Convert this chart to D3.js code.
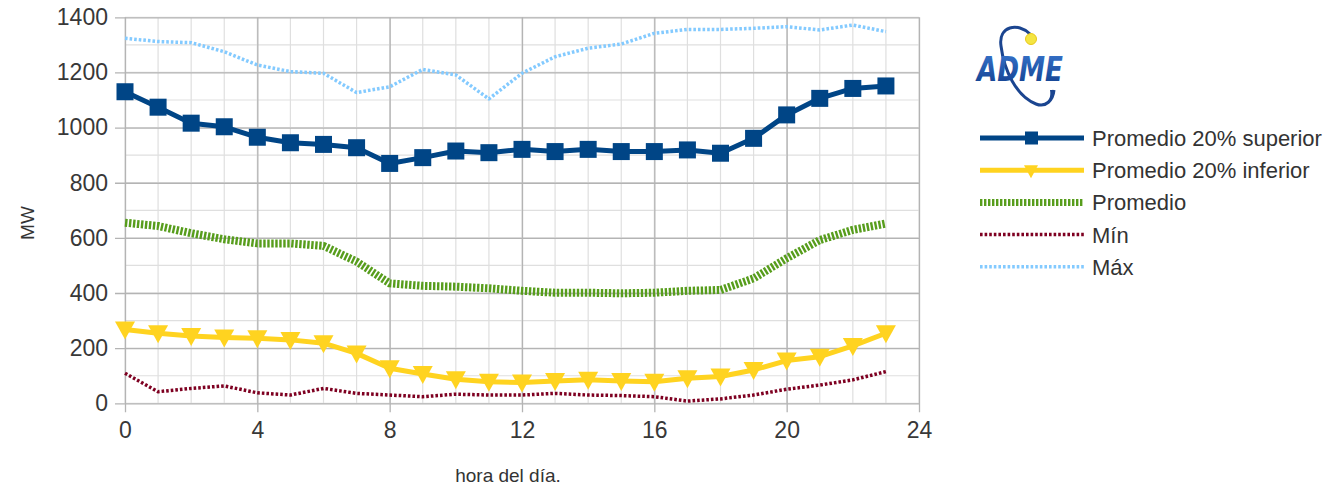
<!DOCTYPE html>
<html>
<head>
<meta charset="utf-8">
<script src="https://cdn.jsdelivr.net/npm/d3@7"></script>
<style>
  html, body { margin: 0; padding: 0; background: #ffffff; }
  svg { display: block; font-family: "Liberation Sans", Arial, sans-serif; }
</style>
</head>
<body>
<svg id="chart" width="1339" height="486"></svg>
<script>
// Hourly demand profile (MW), hours 0..23
const hours = d3.range(0, 24);
const promedioSuperior = [1130, 1074, 1016, 1003, 965, 945, 939, 927, 870, 891, 915, 909,
                          921, 913, 921, 913, 913, 919, 907, 961, 1046, 1106, 1142, 1151];
const promedioInferior = [268, 254, 244, 239, 236, 230, 218, 181, 127, 106, 87, 78,
                          75, 81, 85, 81, 78, 91, 97, 121, 155, 169, 208, 254];
const promedio = [655, 643, 617, 595, 580, 580, 571, 514, 435, 426, 423, 417,
                  408, 401, 401, 399, 401, 408, 411, 453, 526, 592, 629, 652];
const minimo = [109, 42, 54, 63, 38, 30, 54, 36, 30, 24, 33, 30,
                30, 36, 30, 28, 24, 8, 16, 30, 51, 66, 85, 115];
const maximo = [1324, 1312, 1308, 1275, 1227, 1203, 1197, 1127, 1148, 1211, 1191, 1104,
                1197, 1257, 1288, 1303, 1342, 1356, 1356, 1360, 1366, 1354, 1372, 1348];

const xTicks = [0, 4, 8, 12, 16, 20, 24];
const yTicks = [0, 200, 400, 600, 800, 1000, 1200, 1400];
const seriesNames = ["Promedio 20% superior", "Promedio 20% inferior", "Promedio", "Mín", "Máx"];

const svg = d3.select("#chart");
const x = d3.scaleLinear().domain([0, 24]).range([125, 919]);
const y = d3.scaleLinear().domain([0, 1400]).range([403.3, 17.3]);

// Grid: minor every hour / 100 MW, major every 4 h / 200 MW
const grid = svg.append("g");
grid.selectAll(".vminor").data(d3.range(0, 25)).join("line")
  .attr("x1", d => x(d)).attr("x2", d => x(d))
  .attr("y1", y(1400)).attr("y2", y(0))
  .attr("stroke", "#dfdfdf").attr("stroke-width", 1.2);
grid.selectAll(".hminor").data(d3.range(0, 1401, 100)).join("line")
  .attr("x1", x(0)).attr("x2", x(24))
  .attr("y1", d => y(d)).attr("y2", d => y(d))
  .attr("stroke", "#dfdfdf").attr("stroke-width", 1.2);

// Axes with gridlines as major ticks
const xAxis = d3.axisBottom(x).tickValues(xTicks).tickSize(y(0) - y(1400) + 9).tickPadding(9).tickFormat(d3.format("d"));
const yAxis = d3.axisLeft(y).tickValues(yTicks).tickSize(x(24) - x(0) + 10).tickPadding(7).tickFormat(d3.format("d"));

const gx = svg.append("g").attr("transform", `translate(0,${y(1400)})`).call(xAxis);
const gy = svg.append("g").attr("transform", `translate(${x(24)},0)`).call(yAxis);
[gx, gy].forEach(g => {
  g.select(".domain").remove();
  g.selectAll(".tick line").attr("stroke", "#b4b4b4").attr("stroke-width", 1.3);
  g.selectAll(".tick text").attr("fill", "#383838").attr("font-size", 23)
    .attr("font-family", "'Liberation Sans', Arial, sans-serif");
});

// Axis titles
svg.append("text").attr("x", 508).attr("y", 482)
  .attr("text-anchor", "middle").attr("font-size", 19).attr("fill", "#333")
  .text("hora del día.");
svg.append("text").attr("transform", "translate(34,223) rotate(-90)")
  .attr("text-anchor", "middle").attr("font-size", 19).attr("fill", "#333")
  .text("MW");

const line = d3.line().x((d, i) => x(hours[i])).y(d => y(d));

const styles = [
  { data: promedioSuperior, color: "#004586", width: 5, dash: null, marker: "square" },
  { data: promedioInferior, color: "#ffd320", width: 5, dash: null, marker: "triangle" },
  { data: promedio, color: "#579d1c", width: 8, dash: "2.4,1.6", marker: null },
  { data: minimo, color: "#7e0021", width: 3.5, dash: "2.6,2", marker: null },
  { data: maximo, color: "#83caff", width: 3.5, dash: "2.6,2", marker: null }
];

// Draw order: dotted series first, then the marker series on top
const order = [4, 2, 3, 1, 0];
const plot = svg.append("g");
order.forEach(k => {
  const s = styles[k];
  plot.append("path").datum(s.data)
    .attr("d", line).attr("fill", "none")
    .attr("stroke", s.color).attr("stroke-width", s.width)
    .attr("stroke-linejoin", "round")
    .attr("stroke-dasharray", s.dash);
  if (s.marker === "square") {
    plot.selectAll(null).data(s.data).join("rect")
      .attr("x", (d, i) => x(hours[i]) - 8.5).attr("y", d => y(d) - 8.5)
      .attr("width", 17).attr("height", 17).attr("fill", s.color);
  } else if (s.marker === "triangle") {
    plot.selectAll(null).data(s.data).join("path")
      .attr("transform", (d, i) => `translate(${x(hours[i])},${y(d)})`)
      .attr("d", "M-10,-8 L10,-8 L0,10 Z").attr("fill", s.color);
  }
});

// Legend
const legend = svg.append("g");
seriesNames.forEach((name, k) => {
  const s = styles[k];
  const ly = 138 + k * 32.2;
  legend.append("line").attr("x1", 980).attr("x2", 1084).attr("y1", ly).attr("y2", ly)
    .attr("stroke", s.color).attr("stroke-width", s.width === 8 ? 7 : (s.marker ? 5 : 3.5))
    .attr("stroke-dasharray", s.dash);
  if (s.marker === "square") {
    legend.append("rect").attr("x", 1025).attr("y", ly - 6.5).attr("width", 13).attr("height", 13).attr("fill", s.color);
  } else if (s.marker === "triangle") {
    legend.append("path").attr("transform", `translate(1031,${ly})`)
      .attr("d", "M-7,-5 L7,-5 L0,8 Z").attr("fill", s.color);
  }
  legend.append("text").attr("x", 1092).attr("y", ly).attr("dy", "0.36em")
    .attr("font-size", 22).attr("fill", "#333").text(name);
});

// ADME logo
const logo = svg.append("g");
const defs = svg.append("defs");
const grad = defs.append("linearGradient").attr("id", "admeGrad").attr("x1", 0).attr("y1", 0).attr("x2", 0).attr("y2", 1);
grad.append("stop").attr("offset", "0%").attr("stop-color", "#3a78d0");
grad.append("stop").attr("offset", "100%").attr("stop-color", "#0f3c8a");
logo.append("path")
  .attr("d", "M1030,34 C1018,22 998,26 1001,46 C1004,70 1016,96 1036,104 C1046,108 1053,100 1054,90")
  .attr("fill", "none").attr("stroke", "#1b4590").attr("stroke-width", 3);
logo.append("path")
  .attr("d", "M1054,90 C1053,98 1049,104 1042,106 C1050,101 1051,96 1050,90 Z")
  .attr("fill", "#1b4590");
logo.append("text").attr("x", 977).attr("y", 81)
  .attr("font-size", 34).attr("font-weight", "bold").attr("font-style", "italic")
  .attr("font-family", "'DejaVu Sans', sans-serif")
  .attr("fill", "url(#admeGrad)")
  .attr("textLength", 86).attr("lengthAdjust", "spacingAndGlyphs")
  .text("ADME");
logo.append("circle").attr("cx", 1031).attr("cy", 39).attr("r", 5.5).attr("fill", "#f4e542")
  .attr("stroke", "#e9c81a").attr("stroke-width", 1);
</script>
</body>
</html>
